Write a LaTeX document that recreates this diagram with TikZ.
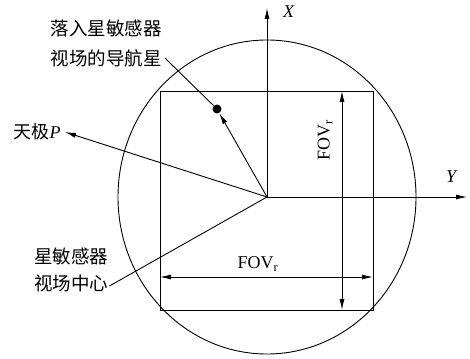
\documentclass[tikz,border=0pt]{standalone}
\usepackage{fontspec}
\setmainfont{Liberation Serif}
\newfontfamily\cjk{Noto Sans CJK SC}
\usetikzlibrary{arrows.meta, positioning}

\begin{document}
\begin{tikzpicture}[
  x=1pt, y=-1pt,
  line width=0.9pt,
  lbl/.style   = {font=\cjk\fontsize{18.5}{22}\selectfont, inner sep=1pt},
  ltr/.style   = {font=\fontsize{18}{22}\selectfont, inner sep=1pt},
  arr/.style   = {-{Latex[length=11pt,width=5pt]}},
  dbl/.style   = {{Latex[length=11pt,width=5pt]}-{Latex[length=11pt,width=5pt]}},
]
  \useasboundingbox (0,0) rectangle (470,358);
  % field circle and sensor frame
  \draw (267,197) ellipse [x radius=149, y radius=157];
  \draw (160,91) rectangle (373,310);
  \coordinate (o)  at (267,197);
  \coordinate (xt) at (267,8);
  \coordinate (yt) at (467,197);
  \coordinate (fl) at (160,277);
  \coordinate (fr) at (373,277);
  \coordinate (ft) at (342,91);
  \coordinate (fb) at (342,310);
  % axes
  \draw[arr] (o) -- (xt);
  \draw[arr] (o) -- (yt);
  \node[ltr] (xl) at (289,12)  {\textit{X}};
  \node[ltr] (yl) at (452,177) {\textit{Y}};
  % FOV arrows
  \draw[dbl] (fl) -- (fr);
  \draw[dbl] (fb) -- (ft);
  \node[ltr] (fovh) at (258,264) {FOV\textsubscript{r}};
  \node[ltr, rotate=90] (fovv) at (325,140) {FOV\textsubscript{r}};
  % navigation star
  \node[circle, fill, inner sep=0pt, minimum size=9pt] (star) at (217,109) {};
  \node[lbl] (nav1) at (106,28) {落入星敏感器};
  \node[lbl] (nav2) at (106,58) {视场的导航星};
  \draw[arr] (o) -- (star);
  \draw (star) -- ([xshift=2pt]nav2.east);
  % pole
  \node[ltr] (pole) at (37,132) {{\cjk 天极}\textit{P}};
  \draw[arr] (o) -- ([xshift=3pt]pole.east);
  % sensor centre
  \node[lbl] (cen1) at (71,256) {星敏感器};
  \node[lbl] (cen2) at (71,283) {视场中心};
  \draw (o) -- ([yshift=-3pt]cen2.east);
\end{tikzpicture}
\end{document}
